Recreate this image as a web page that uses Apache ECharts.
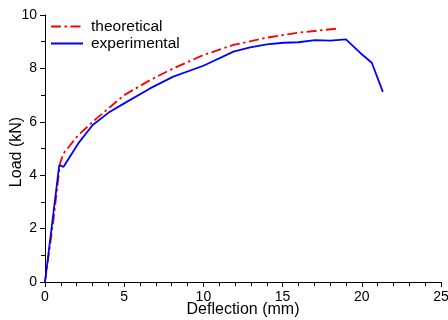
<!DOCTYPE html>
<html>
<head>
<meta charset="utf-8">
<script src="https://cdn.jsdelivr.net/npm/echarts@6/dist/echarts.min.js"></script>
<style>
  html, body { margin: 0; padding: 0; background: #fff; }
  #chart { width: 448px; height: 320px; }
</style>
</head>
<body>
<div id="chart"></div>
<script>
// deflection (mm) / load (kN)
const theoreticalX = [0, 0.53, 0.95, 1.16, 2.1, 3.26, 5.0, 6.63, 8.1, 10.0, 11.9, 14.0, 16.0, 18.6]
const theoreticalY = [0, 2.31, 4.44, 4.81, 5.5, 6.13, 7.0, 7.56, 8.0, 8.5, 8.88, 9.15, 9.34, 9.5]

const experimentalX = [0, 0.9, 1.16, 2.1, 3.01, 4.1, 5.0, 6.63, 8.1, 10.0, 11.9, 12.95, 14.0, 15.05, 16.0, 17.06, 18.0, 19.0, 19.94, 20.63, 21.33]
const experimentalY = [0, 4.38, 4.31, 5.19, 5.88, 6.38, 6.69, 7.25, 7.69, 8.1, 8.63, 8.79, 8.9, 8.96, 8.98, 9.06, 9.04, 9.09, 8.56, 8.21, 7.12]

const font = 'Liberation Sans, Arial, sans-serif'

function pairs(xs, ys) {
  return xs.map((x, i) => [x, ys[i]])
}

const chart = echarts.init(document.getElementById('chart'), null, { renderer: 'canvas' })

const axisCommon = {
  type: 'value',
  nameLocation: 'middle',
  nameMoveOverlap: false,
  nameTextStyle: { fontFamily: font, fontSize: 16, color: '#000' },
  axisLine: { show: true, lineStyle: { color: '#000', width: 1 } },
  axisTick: { show: true, inside: false, length: 5, lineStyle: { color: '#000' } },
  minorTick: { show: true, length: 4, lineStyle: { color: '#000' } },
  axisLabel: { fontFamily: font, fontSize: 14, color: '#000' },
  splitLine: { show: false }
}

chart.setOption({
  animation: false,
  grid: { left: 45, right: 7, top: 15, bottom: 38, outerBoundsMode: 'none', containLabel: false },
  legend: {
    left: 50,
    top: 18,
    padding: 0,
    orient: 'vertical',
    itemWidth: 32,
    itemHeight: 10,
    itemGap: 0,
    itemStyle: { opacity: 0 },
    textStyle: { fontFamily: font, fontSize: 15.5, lineHeight: 17, color: '#000', padding: [0, 0, 0, 3] },
    data: ['theoretical', 'experimental']
  },
  xAxis: {
    ...axisCommon,
    name: 'Deflection (mm)',
    nameGap: 20,
    min: 0,
    max: 25,
    interval: 5,
    minorTick: { ...axisCommon.minorTick, splitNumber: 5 },
    axisLabel: { ...axisCommon.axisLabel, margin: 8 }
  },
  yAxis: {
    ...axisCommon,
    name: 'Load (kN)',
    nameGap: 20,
    nameTextStyle: { ...axisCommon.nameTextStyle, padding: [0, 7, 0, 0] },
    min: 0,
    max: 10,
    interval: 2,
    minorTick: { ...axisCommon.minorTick, splitNumber: 2 },
    axisLabel: { ...axisCommon.axisLabel, margin: 8 }
  },
  series: [
    {
      name: 'theoretical',
      type: 'line',
      data: pairs(theoreticalX, theoreticalY),
      showSymbol: false,
      symbol: 'none',
      color: '#ff0000',
      lineStyle: { color: '#ff0000', width: 1.8, type: [10, 3.5, 2.5, 3.5] }
    },
    {
      name: 'experimental',
      type: 'line',
      data: pairs(experimentalX, experimentalY),
      showSymbol: false,
      symbol: 'none',
      color: '#0000ff',
      lineStyle: { color: '#0000ff', width: 1.8 }
    }
  ]
})
</script>
</body>
</html>
